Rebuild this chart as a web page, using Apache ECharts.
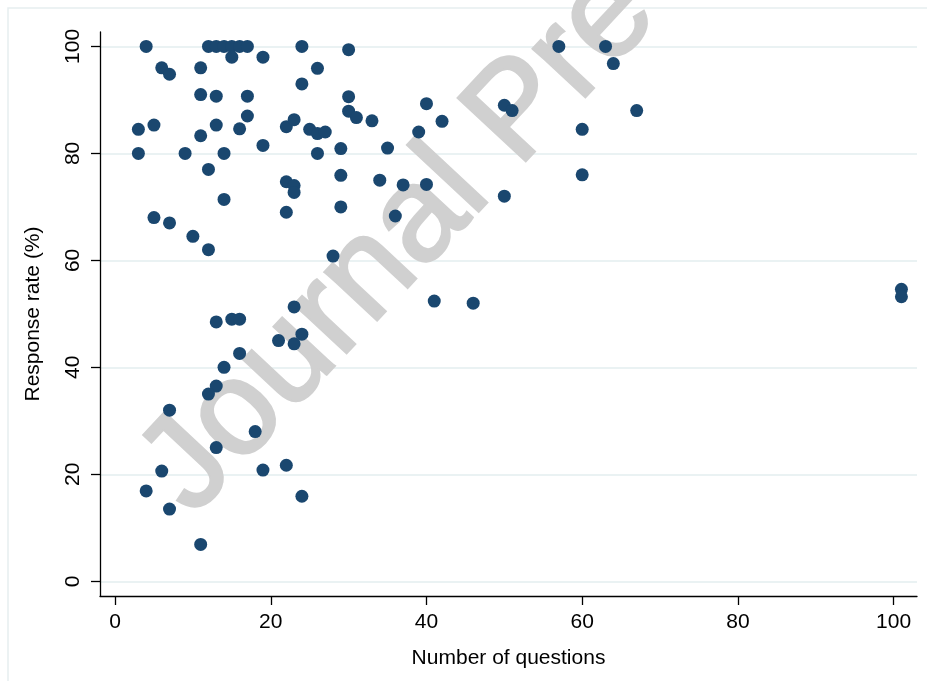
<!DOCTYPE html>
<html>
<head>
<meta charset="utf-8">
<title>Response rate by number of questions</title>
<script src="https://cdn.jsdelivr.net/npm/echarts/dist/echarts.min.js"></script>
<style>
  html, body { margin: 0; padding: 0; background: #fff; }
  #chart { width: 927px; height: 681px; }
</style>
</head>
<body>
<div id="chart"></div>
<script>
// 数据：每个点 = 问题数量 / 回复率(%)
const questions = [
  4, 12, 13, 14, 15, 16, 17, 15, 19, 24,
  6, 7, 11, 26, 24, 11, 13, 17, 17,
  3, 5, 13, 11, 16, 22, 23, 25, 26, 27,
  30, 30, 3, 9, 14, 19, 26, 29, 12, 29,
  22, 23, 23, 14, 29, 22, 5, 7, 10, 12, 28,
  30, 31, 33, 35, 40, 42, 39, 50, 51, 57, 63, 64, 67, 60, 60,
  34, 37, 40, 36, 50, 41, 46,
  23, 13, 15, 16, 21, 24, 23, 16, 14, 13, 12, 7, 18, 13, 6, 19, 22, 4, 24, 7, 11,
  101, 101
]
const responseRate = [
  100, 100, 100, 100, 100, 100, 100, 98, 98, 100,
  96, 94.8, 96, 95.9, 93, 91, 90.7, 90.7, 87,
  84.5, 85.3, 85.3, 83.3, 84.6, 85, 86.3, 84.5, 83.7, 84,
  90.6, 87.9, 80, 80, 80, 81.5, 80, 80.9, 77, 75.9,
  74.7, 74, 72.7, 71.4, 70, 69, 68, 67, 64.5, 62, 60.8,
  99.4, 86.7, 86.1, 81, 89.3, 86, 84, 89, 88, 100, 100, 96.8, 88, 84.5, 76,
  75, 74.1, 74.2, 68.3, 72, 52.4, 52,
  51.3, 48.5, 49, 49, 45, 46.2, 44.4, 42.6, 40, 36.5, 35, 32, 28, 25, 20.6, 20.8, 21.7, 16.9, 15.9, 13.5, 6.9,
  54.6, 53.2
]
const xTicks = [0, 20, 40, 60, 80, 100]
const yTicks = [0, 20, 40, 60, 80, 100]

const fontFamily = '"Liberation Sans", Arial, Helvetica, sans-serif'

const myChart = echarts.init(document.getElementById('chart'))

const options = {
  animation: false,
  backgroundColor: '#fff',
  textStyle: { fontFamily },
  grid: {
    left: 100,
    right: 10,
    top: 32,
    bottom: 85,
    containLabel: false
  },
  xAxis: {
    type: 'value',
    min: -1.93,
    max: 103,
    name: 'Number of questions',
    nameLocation: 'middle',
    nameGap: 52,
    nameTextStyle: { fontSize: 21, color: '#000', fontFamily },
    axisLine: { onZero: false, lineStyle: { color: '#000', width: 1.3 } },
    axisTick: { customValues: xTicks, length: 9, lineStyle: { color: '#000', width: 1.3 } },
    axisLabel: { customValues: xTicks, fontSize: 21, color: '#000', margin: 16, fontFamily },
    splitLine: { show: false }
  },
  yAxis: {
    type: 'value',
    min: -2.75,
    max: 102.7,
    name: 'Response rate (%)',
    nameLocation: 'middle',
    nameRotate: 90,
    nameGap: 56,
    nameTextStyle: { fontSize: 21, color: '#000', fontFamily },
    axisLine: { onZero: false, lineStyle: { color: '#000', width: 1.3 } },
    axisTick: { customValues: yTicks, length: 9, lineStyle: { color: '#000', width: 1.3 } },
    axisLabel: { customValues: yTicks, rotate: 90, fontSize: 21, color: '#000', margin: 16, fontFamily },
    splitLine: { show: true, lineStyle: { color: '#eaf2f3', width: 2 } }
  },
  graphic: [
    {
      // 外框
      type: 'rect',
      z: -10,
      shape: { x: 8, y: 8, width: 1000, height: 1000 },
      style: { fill: 'none', stroke: '#e6eef0', lineWidth: 1.5 }
    },
    {
      // 水印 (放在网格线之上、散点之下)
      type: 'text',
      z: 1,
      x: 215,
      y: 538,
      rotation: 47 * Math.PI / 180,
      style: {
        text: 'Journal Pre-proof',
        fontSize: 134,
        fontFamily,
        fill: '#d0d0d0',
        stroke: '#d0d0d0',
        lineWidth: 3,
        lineJoin: 'round',
        align: 'left',
        verticalAlign: 'bottom'
      }
    }
  ],
  series: [
    {
      type: 'scatter',
      symbol: 'circle',
      symbolSize: 13,
      clip: false,
      z: 5,
      itemStyle: { color: '#1a476f', opacity: 1 },
      data: questions.map((q, i) => [q, responseRate[i]])
    }
  ]
}

myChart.setOption(options)
</script>
</body>
</html>
